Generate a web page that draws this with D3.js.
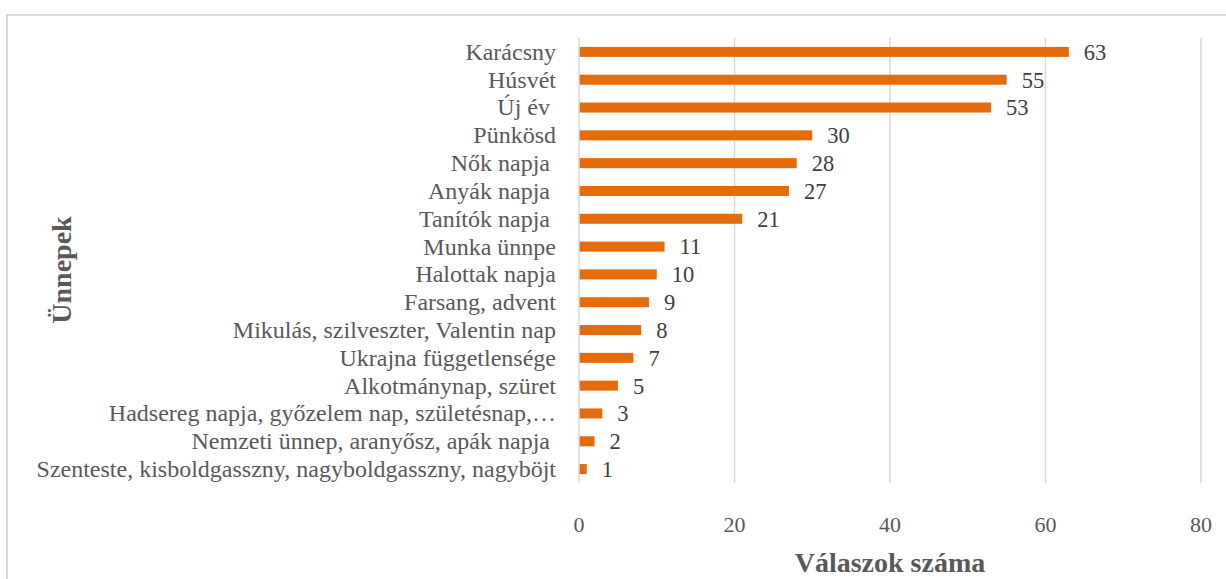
<!DOCTYPE html>
<html>
<head>
<meta charset="utf-8">
<script src="https://cdn.jsdelivr.net/npm/d3@7"></script>
<style>
  body { margin: 0; background: #fff; }
</style>
</head>
<body>
<svg id="chart" width="1226" height="579" font-family="'Liberation Serif', serif"></svg>
<script>
const categories = [
  "Karácsny", "Húsvét", "Új év ", "Pünkösd", "Nők napja ", "Anyák napja ",
  "Tanítók napja ", "Munka ünnpe", "Halottak napja", "Farsang, advent",
  "Mikulás, szilveszter, Valentin nap", "Ukrajna függetlensége",
  "Alkotmánynap, szüret", "Hadsereg napja, győzelem nap, születésnap,…",
  "Nemzeti ünnep, aranyősz, apák napja ",
  "Szenteste, kisboldgasszny, nagyboldgasszny, nagyböjt"
];
const values = [63, 55, 53, 30, 28, 27, 21, 11, 10, 9, 8, 7, 5, 3, 2, 1];
const xTicks = [0, 20, 40, 60, 80];

const svg = d3.select("#chart");
const plotLeft = 579, plotRight = 1201, plotTop = 38, plotBottom = 483;

// outer frame
svg.append("rect")
  .attr("x", 7).attr("y", 15)
  .attr("width", 1240).attr("height", 600)
  .attr("fill", "none").attr("stroke", "#d9d9d9").attr("stroke-width", 2);

const x = d3.scaleLinear([0, 80], [plotLeft, plotRight]);
const y = d3.scaleBand(categories, [plotTop, plotBottom]).paddingInner(0.64).paddingOuter(0.32);

// gridlines
svg.append("g").selectAll("line")
  .data(xTicks.slice(1))
  .join("line")
  .attr("x1", d => x(d)).attr("x2", d => x(d))
  .attr("y1", plotTop).attr("y2", plotBottom)
  .attr("stroke", "#d9d9d9").attr("stroke-width", 1.5);

// bars
svg.append("g").selectAll("rect")
  .data(values)
  .join("rect")
  .attr("x", x(0))
  .attr("y", (d, i) => y(categories[i]))
  .attr("width", d => x(d) - x(0))
  .attr("height", y.bandwidth())
  .attr("fill", "#e46c0a");

// category axis line
svg.append("line")
  .attr("x1", x(0)).attr("x2", x(0))
  .attr("y1", plotTop).attr("y2", plotBottom)
  .attr("stroke", "#d9d9d9").attr("stroke-width", 1.5);

// value labels
svg.append("g").selectAll("text")
  .data(values)
  .join("text")
  .attr("x", d => x(d) + 15)
  .attr("y", (d, i) => y(categories[i]) + y.bandwidth() / 2)
  .attr("dy", "0.35em")
  .attr("font-size", 22.5)
  .attr("fill", "#404040")
  .text(d => d);

// category labels
svg.append("g").selectAll("text")
  .data(categories)
  .join("text")
  .attr("x", 556)
  .attr("y", d => y(d) + y.bandwidth() / 2)
  .attr("dy", "0.33em")
  .attr("text-anchor", "end")
  .attr("font-size", 24)
  .attr("fill", "#595959")
  .style("white-space", "pre")
  .text(d => d);

// x tick labels
svg.append("g").selectAll("text")
  .data(xTicks)
  .join("text")
  .attr("x", d => x(d))
  .attr("y", 524)
  .attr("dy", "0.35em")
  .attr("text-anchor", "middle")
  .attr("font-size", 22)
  .attr("fill", "#595959")
  .text(d => d);

// axis titles
svg.append("text")
  .attr("x", x(40)).attr("y", 562)
  .attr("dy", "0.35em")
  .attr("text-anchor", "middle")
  .attr("font-size", 28).attr("font-weight", "bold")
  .attr("fill", "#595959")
  .text("Válaszok száma");

svg.append("text")
  .attr("transform", "translate(61,270) rotate(-90)")
  .attr("dy", "0.35em")
  .attr("text-anchor", "middle")
  .attr("font-size", 28).attr("font-weight", "bold")
  .attr("fill", "#595959")
  .text("Ünnepek");
</script>
</body>
</html>
